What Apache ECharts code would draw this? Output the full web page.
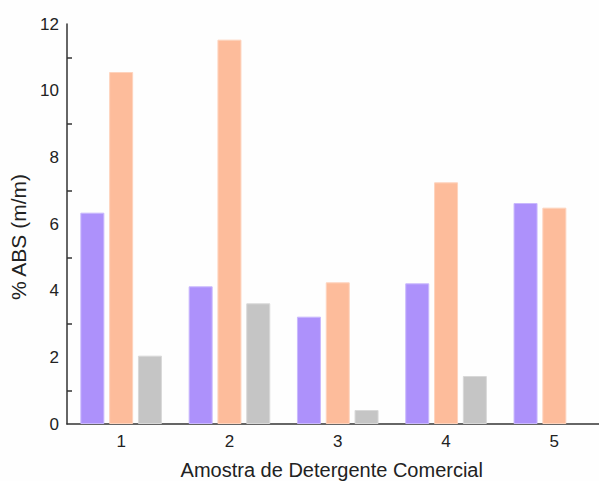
<!DOCTYPE html>
<html>
<head>
<meta charset="utf-8">
<script src="https://cdn.jsdelivr.net/npm/echarts@6/dist/echarts.min.js"></script>
<style>html,body{margin:0;padding:0;background:#fefefe;}#c{width:599px;height:481px;}</style>
</head>
<body>
<div id="c"></div>
<script>
const categories = ['1', '2', '3', '4', '5'];
const seriesA = [6.34, 4.13, 3.22, 4.22, 6.63];
const seriesB = [10.56, 11.53, 4.25, 7.25, 6.49];
const seriesC = [2.05, 3.62, 0.42, 1.44, null];
const yTicks = [0, 2, 4, 6, 8, 10, 12];

const chart = echarts.init(document.getElementById('c'), null, {renderer: 'svg'});
const font = 'Liberation Sans, Arial, sans-serif';
function bar(name, data, color, border) {
  return {
    name, type: 'bar', data, barWidth: 24, barGap: '20%',
    itemStyle: {color, borderColor: border, borderWidth: 1},
    emphasis: {disabled: true}
  };
}
chart.setOption({
  animation: false,
  backgroundColor: '#fefefe',
  grid: {left: 67, top: 24, width: 541.5, height: 400, containLabel: false, outerBoundsMode: 'none'},
  xAxis: {
    type: 'category', data: categories,
    axisLine: {lineStyle: {color: '#333', width: 1.5}},
    axisTick: {alignWithLabel: true, inside: true, length: 7, lineStyle: {color: '#333', width: 1.5}},
    axisLabel: {color: '#222', fontSize: 17, fontFamily: font, margin: 9},
    name: 'Amostra de Detergente Comercial', nameLocation: 'middle', nameGap: 36,
    nameTextStyle: {color: '#222', fontSize: 20, fontFamily: font, padding: [0, 12, 0, 0]}
  },
  yAxis: {
    type: 'value', min: 0, max: 12, interval: 2,
    splitLine: {show: false},
    axisLine: {show: true, lineStyle: {color: '#333', width: 1.5}},
    axisTick: {inside: true, length: 8, lineStyle: {color: '#333', width: 1.5}},
    minorTick: {show: true, splitNumber: 2, length: 5, lineStyle: {color: '#333', width: 1.5}},
    axisLabel: {color: '#222', fontSize: 17, fontFamily: font, margin: 8,
      formatter: v => yTicks.includes(v) ? String(v) : ''},
    name: '% ABS (m/m)', nameLocation: 'middle', nameGap: 37,
    nameTextStyle: {color: '#222', fontSize: 21, fontFamily: font, padding: [0, 26, 0, 0]}
  },
  series: [
    bar('A', seriesA, '#ad91fb', '#c9b8fd'),
    bar('B', seriesB, '#fdbc9b', '#fed3bd'),
    bar('C', seriesC, '#c5c5c5', '#d8d8d8')
  ]
});
</script>
</body>
</html>
